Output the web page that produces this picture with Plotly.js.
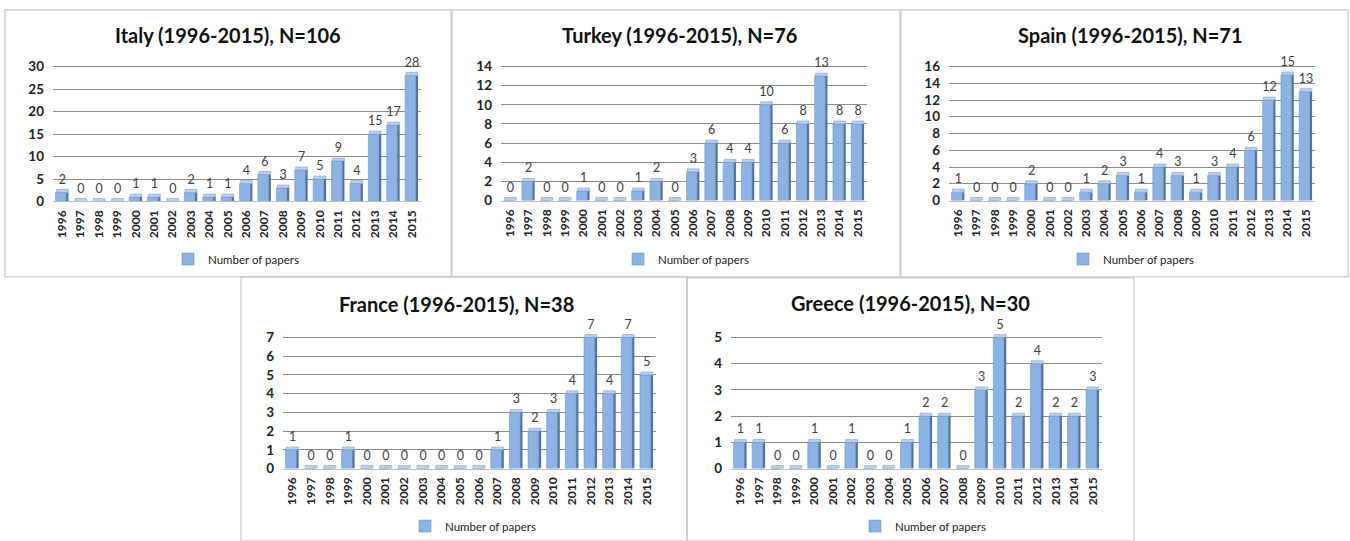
<!DOCTYPE html>
<html>
<head>
<meta charset="utf-8">
<script src="https://cdn.plot.ly/plotly-3.0.1.min.js"></script>
<style>html,body{margin:0;padding:0;background:#fff;}#chart{width:1350px;height:541px;}</style>
</head>
<body>
<div id="chart"></div>
<script>
var years = ["1996","1997","1998","1999","2000","2001","2002","2003","2004","2005","2006","2007","2008","2009","2010","2011","2012","2013","2014","2015"];
var italy  = [2,0,0,0,1,1,0,2,1,1,4,6,3,7,5,9,4,15,17,28];
var turkey = [0,2,0,0,1,0,0,1,2,0,3,6,4,4,10,6,8,13,8,8];
var spain  = [1,0,0,0,2,0,0,1,2,3,1,4,3,1,3,4,6,12,15,13];
var france = [1,0,0,1,0,0,0,0,0,0,0,1,3,2,3,4,7,4,7,5];
var greece = [1,1,0,0,1,0,1,0,0,1,2,2,0,3,5,2,4,2,2,3];
var titles = ["Italy (1996-2015), N=106","Turkey (1996-2015), N=76","Spain (1996-2015), N=71","France (1996-2015), N=38","Greece (1996-2015), N=30"];
var seriesName = "Number of papers";
var yMax = [30,14,16,7,5];
var yStep = [5,2,2,1,1];

var W = 1350, H = 541, EXT = 1.06;
var panels = [
  {vals: italy,  px:[53,421],  py:[203,67], title:[228,35],  leg:[236,261], box:[5,451,10,279]},
  {vals: turkey, px:[501,867], py:[202,67], title:[680,35],  leg:[686,261], box:[452,900,10,279]},
  {vals: spain,  px:[949,1315],py:[202,67], title:[1130,35], leg:[1131,261],box:[901,1348,10,279]},
  {vals: france, px:[283,656], py:[472,340],title:[457,306], leg:[473,530], box:[241,687,279,545]},
  {vals: greece, px:[731,1102],py:[472,340],title:[910,305], leg:[923,530], box:[687,1134,280,545]}
];
var font = "Lato, 'Open Sans', sans-serif";
var cFront = "#8DB3E2", cSide = "#4F73A8", cTop = "#BCD2EE", cEdge = "#6F93C6";

var data = [], layout = {
  width: W, height: H, margin:{l:0,r:0,t:0,b:0}, paper_bgcolor:"#fff", plot_bgcolor:"rgba(0,0,0,0)",
  barmode:"overlay", showlegend:true, annotations:[], shapes:[], font:{family:font, color:"#333"}
};

panels.forEach(function(p, i){
  var n = i === 0 ? "" : String(i+1);
  var xa = "x"+n, ya = "y"+n, lg = "legend"+n;
  var capH = yMax[i]*0.022;
  var cap = p.vals.map(function(){ return capH; });
  var pxPerUnit = (p.py[0]-p.py[1])/yMax[i];
  var topPx = p.py[0] - pxPerUnit*yMax[i]*EXT;
  data.push({type:"bar", x:years, y:p.vals, xaxis:xa, yaxis:ya, name:seriesName, legend:lg,
    marker:{color:cFront, line:{color:cEdge, width:0.6}}, width:0.58, offset:-0.36, hoverinfo:"skip"});
  data.push({type:"bar", x:years, y:p.vals, xaxis:xa, yaxis:ya, showlegend:false,
    marker:{color:cSide, line:{width:0}}, width:0.12, offset:0.22, hoverinfo:"skip"});
  data.push({type:"bar", x:years, y:cap, base:p.vals, xaxis:xa, yaxis:ya, showlegend:false,
    marker:{color:cTop, line:{color:cEdge, width:0.5}}, width:0.64, offset:-0.31,
    text:p.vals.map(String), textposition:"outside", cliponaxis:false, constraintext:"none",
    textfont:{family:font, size:12.5, color:"#404040"}, hoverinfo:"skip"});
  layout["xaxis"+n] = {domain:[p.px[0]/W, p.px[1]/W], anchor:ya, type:"category", range:[-0.5,19.5],
    tickangle:-90, tickfont:{family:font, size:12, color:"#222", weight:"bold"}, showgrid:false,
    showline:true, linecolor:"#BFBFBF", linewidth:1, ticks:"", fixedrange:true, ticklabelstandoff:3};
  layout["yaxis"+n] = {domain:[1-p.py[0]/H, 1-topPx/H], anchor:xa, range:[0,yMax[i]*EXT], dtick:yStep[i],
    tick0:0, showgrid:true, gridcolor:"#8C8C8C", gridwidth:1, zeroline:false, showline:false,
    tickfont:{family:font, size:13.5, color:"#222", weight:"bold"}, ticks:"", ticklabelstandoff:8, fixedrange:true};
  layout[lg] = {x:p.leg[0]/W, y:1-p.leg[1]/H, xanchor:"center", yanchor:"middle", orientation:"h",
    font:{family:font, size:11.5, color:"#222"}, bgcolor:"rgba(0,0,0,0)", itemwidth:30, tracegroupgap:0};
  layout.annotations.push({text:titles[i], xref:"paper", yref:"paper", x:p.title[0]/W, y:1-p.title[1]/H,
    xanchor:"center", yanchor:"middle", showarrow:false, font:{family:font, size:20, color:"#111", weight:"bold"}});
  layout.shapes.push({type:"rect", xref:"paper", yref:"paper", x0:p.box[0]/W, x1:p.box[1]/W,
    y0:1-p.box[3]/H, y1:1-p.box[2]/H, line:{color:"#C8C8C8", width:1.2}, layer:"below"});
});

Plotly.newPlot("chart", data, layout, {displayModeBar:false, staticPlot:true});
</script>
</body>
</html>
